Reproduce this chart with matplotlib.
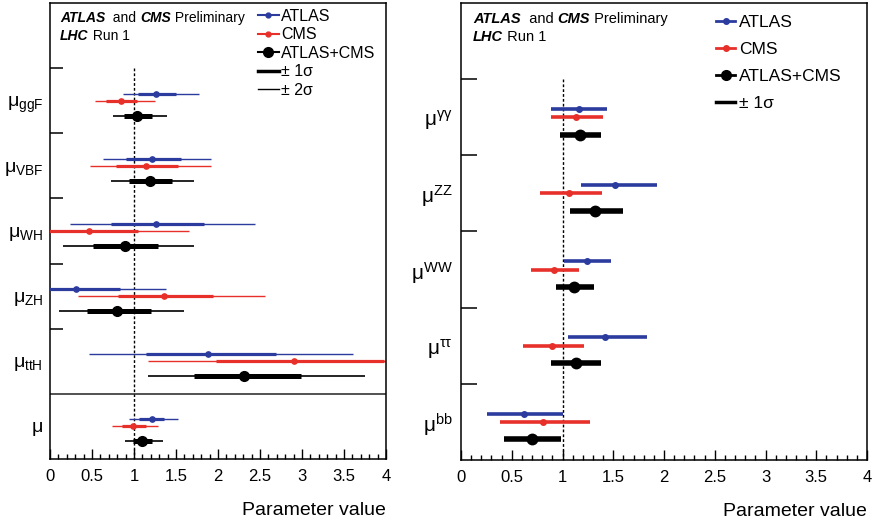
import numpy as np
import matplotlib
matplotlib.use("Agg")
import matplotlib.pyplot as plt
from matplotlib.lines import Line2D
from matplotlib.ticker import MultipleLocator

plt.rcParams['font.family'] = ['Liberation Sans', 'DejaVu Sans']
plt.rcParams['mathtext.fontset'] = 'custom'
plt.rcParams['mathtext.rm'] = 'Liberation Sans'
plt.rcParams['mathtext.it'] = 'Liberation Sans:italic'
plt.rcParams['mathtext.bf'] = 'Liberation Sans:bold'

BLUE = "#2b3c9e"
RED = "#e8302a"

#%% Data: production modes (left), +-1 sigma and +-2 sigma
prod_labels = [r"$\mathrm{\mu_{ggF}}$", r"$\mathrm{\mu_{VBF}}$", r"$\mathrm{\mu_{WH}}$",
               r"$\mathrm{\mu_{ZH}}$", r"$\mathrm{\mu_{ttH}}$", r"$\mathrm{\mu}$"]

atlas_p = [1.26, 1.22, 1.26, 0.31, 1.88, 1.21]
atlas_p_1lo = [1.05, 0.91, 0.73, -0.30, 1.14, 1.06]
atlas_p_1hi = [1.50, 1.56, 1.83, 0.83, 2.69, 1.36]
atlas_p_2lo = [0.87, 0.63, 0.24, -0.60, 0.46, 0.94]
atlas_p_2hi = [1.77, 1.92, 2.44, 1.38, 3.61, 1.52]

cms_p = [0.85, 1.14, 0.47, 1.36, 2.91, 0.99]
cms_p_1lo = [0.67, 0.79, -0.07, 0.81, 1.98, 0.86]
cms_p_1hi = [1.03, 1.52, 1.05, 1.94, 3.98, 1.14]
cms_p_2lo = [0.54, 0.48, -0.60, 0.33, 1.17, 0.74]
cms_p_2hi = [1.25, 1.92, 1.66, 2.56, 5.20, 1.28]

comb_p = [1.03, 1.19, 0.89, 0.80, 2.31, 1.10]
comb_p_1lo = [0.88, 0.94, 0.51, 0.44, 1.71, 0.99]
comb_p_1hi = [1.21, 1.45, 1.29, 1.20, 2.99, 1.22]
comb_p_2lo = [0.75, 0.73, 0.15, 0.11, 1.17, 0.89]
comb_p_2hi = [1.39, 1.71, 1.71, 1.60, 3.75, 1.34]

#%% Data: decay modes (right), +-1 sigma
decay_labels = [r"$\mathrm{\mu^{\gamma\gamma}}$", r"$\mathrm{\mu^{ZZ}}$", r"$\mathrm{\mu^{WW}}$",
                r"$\mathrm{\mu^{\tau\tau}}$", r"$\mathrm{\mu^{bb}}$"]

atlas_d = [1.16, 1.52, 1.24, 1.42, 0.62]
atlas_d_lo = [0.89, 1.18, 1.01, 1.05, 0.26]
atlas_d_hi = [1.44, 1.93, 1.48, 1.83, 1.00]

cms_d = [1.13, 1.06, 0.92, 0.90, 0.81]
cms_d_lo = [0.89, 0.78, 0.69, 0.61, 0.38]
cms_d_hi = [1.40, 1.39, 1.16, 1.21, 1.27]

comb_d = [1.17, 1.32, 1.11, 1.13, 0.70]
comb_d_lo = [0.98, 1.07, 0.94, 0.89, 0.42]
comb_d_hi = [1.38, 1.60, 1.31, 1.38, 0.99]

# row offsets inside a category
OFF = {"atlas": 0.39, "cms": 0.50, "comb": 0.73}

fig = plt.figure(figsize=(8.76, 5.22), dpi=100)
axL = fig.add_axes([50/876, 63/522, 336/876, 456/522])
axR = fig.add_axes([461/876, 62/522, 406/876, 457/522])


def style_axis(ax, nrows, ytick_len, labels, label_pad, label_fs):
    ax.set_xlim(0, 4)
    ax.set_ylim(nrows + 1, 0)
    for s in ax.spines.values():
        s.set_linewidth(1.1)
    ax.xaxis.set_minor_locator(MultipleLocator(0.1))
    ax.set_xticks(np.arange(0, 4.01, 0.5), ["0", "0.5", "1", "1.5", "2", "2.5", "3", "3.5", "4"])
    ax.tick_params(axis="x", which="major", direction="in", length=7.5, width=1.0,
                   labelsize=12, pad=7)
    ax.tick_params(axis="x", which="minor", direction="in", length=3.8, width=1.0)
    ax.set_yticks(np.arange(1, nrows + 1))
    ax.set_yticklabels([])
    ax.tick_params(axis="y", which="major", direction="in", length=ytick_len, width=1.1)
    ax.set_yticks(np.arange(1, len(labels) + 1) + 0.5, labels, minor=True)
    ax.tick_params(axis="y", which="minor", length=0, labelsize=label_fs, pad=label_pad)
    ax.set_xlabel("Parameter value", loc="right", fontsize=14, labelpad=13)
    ax.vlines(1, 1, nrows + 1, colors="black", linestyles=(0, (2, 1.5)), lw=1.0, zorder=1)


def header(ax, x, y, fs):
    t = ax.text(x, y, "ATLAS", transform=ax.transAxes, fontsize=fs,
                fontweight="bold", fontstyle="italic", va="baseline")
    t = ax.annotate("  and ", xy=(1, 0), xycoords=t, fontsize=fs, va="bottom")
    t = ax.annotate("CMS", xy=(1, 0), xycoords=t, fontsize=fs, va="bottom",
                    fontweight="bold", fontstyle="italic")
    ax.annotate(" Preliminary", xy=(1, 0), xycoords=t, fontsize=fs, va="bottom")
    t2 = ax.text(x, y - 0.039, "LHC", transform=ax.transAxes, fontsize=fs,
                 fontweight="bold", fontstyle="italic", va="baseline")
    ax.annotate(" Run 1", xy=(1, 0), xycoords=t2, fontsize=fs, va="bottom")


#%% Left panel
rows = np.arange(1, len(atlas_p) + 1)
style_axis(axL, 6, 9.4, prod_labels, 5, 14)
axL.set_yticks([1, 2, 3, 4, 5])
axL.axhline(6, color="#222222", lw=1.1)

for vals, lo1, hi1, lo2, hi2, col, key, lw1, lw2, ms in [
        (atlas_p, atlas_p_1lo, atlas_p_1hi, atlas_p_2lo, atlas_p_2hi, BLUE, "atlas", 2.3, 1.0, 3.8),
        (cms_p, cms_p_1lo, cms_p_1hi, cms_p_2lo, cms_p_2hi, RED, "cms", 2.3, 1.0, 3.8),
        (comb_p, comb_p_1lo, comb_p_1hi, comb_p_2lo, comb_p_2hi, "black", "comb", 3.6, 1.2, 7.0)]:
    y = rows + OFF[key]
    axL.hlines(y, lo2, hi2, colors=col, lw=lw2, zorder=2)
    axL.hlines(y, lo1, hi1, colors=col, lw=lw1, zorder=3)
    axL.plot(vals, y, "o", color=col, ms=ms, zorder=4)

header(axL, 0.030, 0.958, 10)

handlesL = [Line2D([], [], color=BLUE, lw=1.5, marker="o", ms=3.5),
            Line2D([], [], color=RED, lw=1.5, marker="o", ms=3.5),
            Line2D([], [], color="black", lw=1.5, marker="o", ms=7),
            Line2D([], [], color="black", lw=2.5),
            Line2D([], [], color="black", lw=1.0)]
axL.legend(handlesL, ["ATLAS", "CMS", "ATLAS+CMS", "± 1σ", "± 2σ"], loc="upper left",
           bbox_to_anchor=(0.619, 0.987), frameon=False, fontsize=11.5, handlelength=1.3,
           handletextpad=0.15, labelspacing=0.22, borderpad=0, borderaxespad=0)

#%% Right panel
rows_d = np.arange(1, len(atlas_d) + 1)
style_axis(axR, 5, 11.3, decay_labels, 6, 15)

for vals, lo, hi, col, key, lw, ms in [
        (atlas_d, atlas_d_lo, atlas_d_hi, BLUE, "atlas", 2.6, 4.0),
        (cms_d, cms_d_lo, cms_d_hi, RED, "cms", 2.6, 4.0),
        (comb_d, comb_d_lo, comb_d_hi, "black", "comb", 4.0, 7.5)]:
    y = rows_d + OFF[key]
    axR.hlines(y, lo, hi, colors=col, lw=lw, zorder=3)
    axR.plot(vals, y, "o", color=col, ms=ms, zorder=4)

header(axR, 0.030, 0.956, 10.5)

handlesR = [Line2D([], [], color=BLUE, lw=2, marker="o", ms=4),
            Line2D([], [], color=RED, lw=2, marker="o", ms=4),
            Line2D([], [], color="black", lw=2, marker="o", ms=7),
            Line2D([], [], color="black", lw=2.5)]
axR.legend(handlesR, ["ATLAS", "CMS", "ATLAS+CMS", "± 1σ"], loc="upper left",
           bbox_to_anchor=(0.628, 0.973), frameon=False, fontsize=12.5, handlelength=1.1,
           handletextpad=0.25, labelspacing=0.68, borderpad=0, borderaxespad=0)

fig.savefig("out.png", dpi=100)
